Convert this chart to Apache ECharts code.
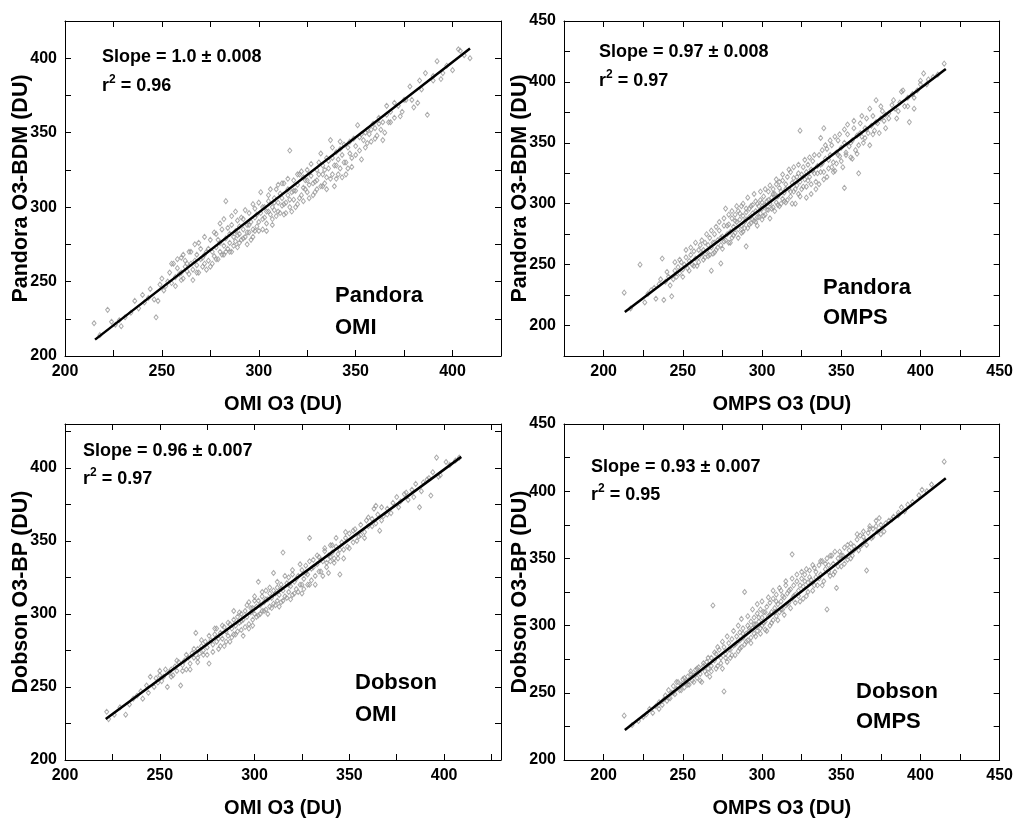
<!DOCTYPE html>
<html><head><meta charset="utf-8">
<script src="https://cdn.jsdelivr.net/npm/echarts@6/dist/echarts.min.js"></script>
<style>html,body{margin:0;padding:0;background:#fff}#c{width:1016px;height:820px}</style>
</head><body><div id="c"></div>
<script>
const xNames = ['OMI O3 (DU)', 'OMPS O3 (DU)', 'OMI O3 (DU)', 'OMPS O3 (DU)'];
const yNames = ['Pandora O3-BDM (DU)', 'Pandora O3-BDM (DU)', 'Dobson O3-BP (DU)', 'Dobson O3-BP (DU)'];
const slopeTexts = ['Slope = 1.0 \u00b1 0.008', 'Slope = 0.97 \u00b1 0.008', 'Slope = 0.96 \u00b1 0.007', 'Slope = 0.93 \u00b1 0.007'];
const r2Values = ['0.96', '0.97', '0.97', '0.95'];
const boxTexts = [['Pandora', 'OMI'], ['Pandora', 'OMPS'], ['Dobson', 'OMI'], ['Dobson', 'OMPS']];
const xRanges = [[200, 425], [175, 450], [200, 430], [175, 450]];
const yRanges = [[200, 425], [175, 450], [200, 430], [200, 450]];
const tickStep = 25;
const labelStep = 50;

const p1Fit = [[215.5, 211], [409, 406.5]];
const p2Fit = [[213.4, 211.2], [416, 410.5]];
const p3Fit = [[221.5, 228], [409, 407.5]];
const p4Fit = [[213.4, 222.3], [416, 409.6]];

const p1Points = [[215,222],[218,214],[222,231],[224,223],[226,221],[228,224],[229,220],[231,226],[234,229],[236,237],[238,232],[240,241],[241,236],[243,239],[244,245],[246,238],[247,226],[248,237],[249,248],[250,252],[251,244],[252,247],[253,250],[254,256],[255,249],[256,262],[257,253],[258,259],[259,255],[260,266],[260,256],[261,252],[262,260],[262,264],[263,257],[264,255],[265,262],[265,270],[266,258],[267,264],[268,261],[268,268],[269,256],[270,265],[270,272],[271,260],[272,268],[272,262],[273,270],[274,264],[275,278],[275,260],[276,270],[277,267],[278,273],[278,282],[279,265],[280,276],[280,270],[281,285],[282,274],[282,268],[283,304],[283,279],[284,272],[285,282],[285,276],[286,288],[286,270],[287,280],[288,284],[288,277],[289,291],[289,273],[290,282],[290,287],[291,278],[292,285],[292,292],[293,280],[294,288],[294,275],[295,296],[295,283],[296,290],[297,285],[297,280],[298,293],[298,299],[299,287],[300,303],[300,290],[301,296],[302,285],[302,300],[303,293],[304,297],[304,289],[305,304],[305,308],[306,295],[307,300],[307,292],[308,306],[308,298],[309,312],[310,303],[310,297],[311,309],[312,301],[312,306],[313,316],[313,295],[314,303],[315,308],[315,312],[316,338],[316,300],[317,310],[318,305],[318,318],[319,311],[320,302],[320,315],[321,322],[322,308],[323,313],[323,320],[324,318],[325,310],[325,325],[326,315],[327,321],[328,308],[329,317],[330,325],[330,318],[331,330],[332,314],[333,322],[333,328],[334,316],[335,333],[335,320],[336,326],[337,345],[338,322],[338,333],[339,328],[340,319],[340,337],[341,332],[342,344],[342,326],[343,335],[344,330],[345,322],[346,340],[347,336],[348,333],[349,346],[350,341],[351,355],[352,338],[353,349],[354,345],[355,340],[356,352],[357,349],[358,344],[359,356],[360,353],[361,348],[362,360],[363,352],[364,357],[365,350],[366,362],[367,357],[368,364],[370,360],[372,368],[374,364],[376,372],[378,381],[380,367],[382,370],[384,379],[386,390],[387,362],[390,385],[392,398],[394,386],[397,395],[400,392],[403,406],[406,402],[409,400]];
const p1PointsB = [[255,262],[257,247],[258,265],[260,251],[261,268],[263,262],[264,270],[266,251],[267,275],[268,256],[269,276],[271,266],[272,280],[273,258],[274,272],[276,262],[277,283],[278,265],[279,278],[280,289],[281,268],[282,292],[283,270],[284,286],[285,270],[286,294],[287,274],[288,297],[289,281],[290,276],[291,293],[292,279],[293,298],[294,283],[295,288],[296,278],[297,302],[298,284],[299,295],[300,284],[301,310],[302,292],[303,300],[304,284],[305,297],[306,312],[307,288],[308,303],[309,294],[310,315],[311,296],[312,316],[313,302],[314,296],[315,319],[316,305],[317,297],[318,311],[319,300],[320,322],[321,306],[322,324],[323,304],[324,312],[325,318],[326,306],[327,329],[328,316],[329,310],[330,312],[331,322],[332,336],[333,314],[334,325],[335,312],[336,331],[337,319],[338,340],[339,314],[340,328],[341,322],[342,339],[343,320],[344,342],[345,330],[346,326],[347,344],[348,327],[350,335],[352,347],[353,332],[355,350],[356,343],[358,352],[360,346],[362,356],[364,345],[366,368],[368,357],[370,370],[373,361],[375,372],[379,372],[383,385],[390,388],[395,390],[404,405]];

const p2Points = [[213,227],[217,214],[223,250],[226,219],[228,226],[230,229],[232,231],[233,222],[235,234],[236,238],[237,255],[238,221],[239,236],[240,244],[241,240],[242,233],[243,224],[244,238],[245,245],[246,240],[247,248],[248,243],[249,252],[250,246],[251,250],[252,256],[253,247],[254,253],[255,258],[256,250],[257,261],[258,255],[259,249],[260,262],[260,256],[261,266],[262,259],[263,254],[264,268],[265,261],[266,257],[266,266],[267,272],[268,245],[268,264],[269,259],[270,275],[270,268],[271,262],[272,270],[273,278],[274,266],[274,251],[275,273],[276,282],[276,269],[277,296],[278,275],[279,283],[279,268],[280,277],[281,288],[281,272],[282,281],[283,291],[283,276],[284,285],[285,279],[285,294],[286,287],[287,282],[287,298],[288,290],[288,277],[289,285],[290,293],[290,287],[290,265],[291,280],[292,296],[292,289],[293,284],[294,299],[294,292],[295,286],[296,302],[296,294],[297,289],[297,282],[298,298],[299,303],[299,292],[300,296],[300,287],[301,306],[302,299],[302,291],[303,302],[304,295],[304,310],[305,300],[305,288],[306,305],[307,312],[307,297],[308,308],[309,301],[309,316],[310,306],[311,298],[311,313],[312,310],[313,304],[313,319],[314,309],[315,316],[315,301],[316,322],[317,312],[318,306],[318,326],[319,317],[320,310],[320,321],[321,300],[322,315],[323,325],[323,308],[324,360],[324,318],[325,312],[326,330],[327,320],[328,314],[328,326],[329,332],[330,322],[331,308],[331,328],[332,335],[333,325],[334,318],[335,331],[336,340],[337,326],[337,354],[338,333],[339,362],[339,320],[340,337],[341,345],[342,329],[343,340],[344,348],[345,334],[346,327],[347,342],[348,352],[349,339],[350,346],[351,330],[352,313],[352,350],[353,342],[354,357],[355,347],[356,338],[357,352],[358,362],[359,344],[360,356],[361,325],[361,348],[362,366],[363,355],[364,350],[365,362],[366,370],[367,358],[368,348],[369,364],[370,372],[371,360],[372,385],[373,366],[374,358],[375,370],[376,376],[377,368],[378,362],[380,374],[382,381],[384,378],[385,370],[387,383],[389,393],[390,380],[392,387],[393,367],[395,390],[396,378],[398,393],[400,398],[402,407],[405,402],[408,404],[411,406],[415,415]];
const p2PointsB = [[245,252],[248,254],[250,240],[252,262],[254,245],[255,264],[257,249],[258,268],[260,252],[262,270],[263,262],[264,256],[265,275],[267,258],[268,278],[269,268],[270,260],[271,281],[272,264],[273,285],[274,272],[275,263],[276,288],[277,270],[278,282],[279,291],[280,268],[281,294],[282,274],[283,286],[284,298],[285,272],[286,292],[287,276],[288,300],[289,280],[290,296],[291,305],[292,283],[293,298],[294,287],[295,308],[296,285],[297,300],[298,289],[299,310],[300,301],[301,290],[302,312],[303,295],[304,303],[305,315],[306,296],[307,308],[308,294],[309,320],[310,299],[311,318],[312,300],[313,324],[314,302],[315,312],[316,303],[317,328],[318,310],[319,300],[320,330],[321,312],[322,322],[323,332],[324,306],[325,324],[326,314],[327,336],[328,305],[329,319],[330,338],[331,316],[332,327],[333,340],[334,312],[335,325],[336,316],[337,332],[338,344],[339,326],[340,348],[341,322],[342,336],[343,352],[344,330],[345,326],[346,355],[347,333],[348,340],[349,357],[350,335],[352,361],[353,340],[354,365],[356,350],[357,337],[358,368],[360,341],[362,358],[363,372],[365,354],[366,361],[368,378],[370,357],[372,367],[375,380],[378,373],[380,370],[383,385],[386,376],[388,392],[392,380],[396,387],[400,401],[404,398]];

const p3Points = [[222,233],[223,228],[226,231],[229,236],[232,231],[234,238],[236,242],[238,244],[240,247],[241,242],[243,251],[244,246],[245,257],[247,250],[248,256],[249,253],[250,258],[251,254],[252,257],[254,250],[255,260],[256,262],[257,258],[258,264],[259,261],[260,267],[261,251],[262,265],[263,268],[264,262],[265,270],[266,266],[267,273],[268,270],[269,287],[270,276],[270,270],[271,273],[272,278],[273,272],[274,281],[275,277],[276,266],[277,282],[278,279],[279,286],[280,281],[280,290],[281,276],[282,287],[283,283],[284,291],[284,278],[285,288],[286,285],[287,293],[287,281],[288,290],[289,296],[289,286],[290,292],[291,288],[291,298],[292,294],[293,289],[293,300],[294,296],[295,291],[295,302],[296,298],[297,293],[297,308],[298,301],[299,296],[299,304],[300,300],[300,309],[301,305],[302,299],[302,322],[303,306],[304,302],[304,312],[305,308],[306,303],[306,316],[307,310],[308,305],[308,314],[309,311],[310,307],[310,328],[311,314],[312,309],[312,318],[313,313],[314,308],[314,320],[315,342],[315,316],[316,312],[317,321],[318,315],[318,325],[319,319],[320,313],[320,327],[321,322],[322,317],[323,326],[324,320],[325,330],[325,314],[326,324],[327,333],[328,327],[329,352],[329,320],[330,331],[331,337],[332,326],[333,334],[334,339],[335,329],[336,336],[337,343],[338,332],[339,340],[340,347],[340,336],[341,342],[342,338],[343,346],[344,341],[345,327],[346,349],[347,344],[348,352],[349,346],[350,355],[352,349],[353,358],[355,353],[356,361],[358,356],[359,364],[360,360],[362,365],[363,372],[364,362],[365,368],[366,357],[367,373],[368,367],[370,372],[372,369],[375,380],[377,377],[379,382],[381,378],[383,385],[385,389],[387,373],[389,390],[391,392],[393,381],[394,397],[396,407],[398,395],[401,404],[403,402],[406,405],[408,407]];
const p3PointsB = [[250,261],[253,262],[256,257],[259,268],[262,261],[264,272],[266,262],[268,276],[270,267],[272,282],[273,275],[275,272],[276,285],[278,274],[279,290],[281,283],[282,278],[283,292],[285,281],[286,294],[288,284],[289,302],[290,286],[292,301],[293,295],[294,285],[296,306],[297,290],[298,304],[299,292],[300,312],[301,298],[302,309],[303,300],[304,315],[305,302],[306,310],[307,300],[308,318],[309,304],[310,316],[311,306],[312,322],[313,305],[314,317],[315,309],[316,326],[317,311],[318,320],[319,310],[320,330],[321,314],[322,324],[323,315],[324,334],[325,320],[326,317],[327,328],[328,320],[329,336],[330,323],[331,332],[332,320],[333,340],[334,329],[335,337],[336,326],[337,345],[338,335],[339,328],[340,339],[341,347],[342,335],[343,352],[344,338],[345,344],[347,338],[348,356],[350,345],[352,357],[354,350],[356,354],[358,352],[360,366],[362,360],[364,374],[367,364],[370,368],[373,376],[376,373],[380,383],[384,380],[388,384],[392,393],[397,394]];

const p4Points = [[213,233],[218,226],[222,229],[225,232],[227,234],[229,238],[231,235],[233,240],[235,243],[237,241],[239,248],[240,244],[241,252],[242,246],[243,250],[244,255],[245,249],[246,253],[247,258],[248,252],[249,256],[250,260],[251,254],[252,258],[253,262],[254,256],[255,264],[256,259],[257,263],[258,267],[259,261],[260,269],[261,264],[262,258],[263,270],[264,266],[265,273],[266,268],[267,262],[268,276],[268,270],[269,315],[270,274],[271,279],[272,270],[273,282],[274,276],[275,268],[276,251],[276,284],[277,279],[278,273],[279,287],[280,282],[280,276],[281,290],[282,285],[283,278],[284,292],[284,287],[285,281],[286,295],[286,289],[287,284],[288,298],[288,291],[289,325],[289,286],[290,294],[291,300],[291,289],[292,296],[293,303],[293,291],[294,298],[295,306],[295,294],[296,301],[297,296],[297,309],[298,303],[299,298],[299,312],[300,306],[300,300],[301,310],[302,303],[302,297],[303,314],[304,307],[305,300],[305,317],[306,310],[307,304],[307,320],[308,313],[309,307],[309,323],[310,316],[311,310],[312,326],[312,318],[313,312],[314,321],[315,315],[315,330],[316,324],[317,317],[318,327],[319,353],[319,320],[320,330],[321,323],[322,333],[323,326],[324,318],[325,335],[326,329],[327,338],[328,322],[329,332],[330,341],[331,334],[332,326],[333,343],[334,336],[335,330],[336,345],[337,338],[338,348],[339,333],[340,342],[341,312],[341,350],[342,345],[343,337],[344,352],[345,346],[346,340],[347,328],[348,350],[349,355],[350,344],[351,352],[352,358],[354,349],[355,356],[356,361],[357,352],[358,359],[360,364],[361,356],[362,367],[363,360],[364,370],[365,363],[366,341],[367,369],[368,374],[369,365],[370,372],[372,378],[373,370],[374,380],[375,375],[377,370],[380,378],[383,381],[386,384],[388,388],[390,385],[392,390],[401,401],[404,400],[407,405],[415,422]];
const p4PointsB = [[235,238],[238,245],[241,246],[244,250],[246,258],[249,252],[251,261],[253,256],[255,266],[257,258],[259,268],[261,259],[263,272],[265,264],[266,276],[268,266],[270,280],[271,268],[272,284],[274,272],[275,288],[277,276],[278,292],[279,282],[281,278],[282,296],[283,286],[285,300],[286,283],[287,305],[288,294],[290,288],[291,307],[292,298],[293,287],[294,312],[295,301],[296,292],[297,316],[298,306],[299,294],[300,318],[301,302],[302,310],[303,296],[304,321],[305,308],[306,302],[307,326],[308,310],[309,318],[310,304],[311,328],[312,312],[313,322],[314,308],[315,333],[316,316],[317,326],[318,313],[319,335],[320,322],[321,317],[322,338],[323,322],[324,330],[325,340],[326,320],[327,333],[328,342],[329,325],[330,336],[332,345],[333,330],[334,340],[336,335],[337,348],[338,330],[340,346],[342,340],[343,352],[345,338],[346,355],[348,344],[350,352],[352,346],[354,360],[356,350],[358,356],[360,368],[362,359],[364,366],[366,360],[368,372],[370,366],[372,374],[375,368],[378,376],[382,379],[386,382],[395,392],[399,397]];

const allPoints = [p1Points.concat(p1PointsB), p2Points.concat(p2PointsB), p3Points.concat(p3PointsB), p4Points.concat(p4PointsB)];
const allFits = [p1Fit, p2Fit, p3Fit, p4Fit];

// layout (pixels)
const gridBoxes = [[65, 21, 436, 335], [564, 21, 436, 335], [65, 424, 436, 336], [564, 424, 436, 336]];
const textPos = [
  {s: [102, 57], r: [102, 86], b: [335, 296], b2: [335, 328]},
  {s: [599, 52], r: [599, 81], b: [823, 288], b2: [823, 318]},
  {s: [83, 451], r: [83, 479], b: [355, 683], b2: [355, 715]},
  {s: [591, 467], r: [591, 495], b: [856, 692], b2: [856, 722]}
];

const FONT = '"Liberation Sans", Arial, Helvetica, sans-serif';
const chart = echarts.init(document.getElementById('c'), null, {renderer: 'canvas'});

const grids = [], xAxes = [], yAxes = [], series = [], graphics = [];
const fmt = v => (v % labelStep === 0 ? String(v) : '');
const tickCommon = {show: true, inside: true, length: 6, lineStyle: {color: '#000', width: 1}};
const lineCommon = {show: true, onZero: false, lineStyle: {color: '#000', width: 1}};
const labelCommon = {color: '#000', fontSize: 16, fontWeight: 'bold', fontFamily: FONT, formatter: fmt, showMinLabel: true, showMaxLabel: true};

for (let i = 0; i < 4; i++) {
  const g = gridBoxes[i];
  grids.push({left: g[0], top: g[1], width: g[2], height: g[3], containLabel: false, show: false});
  xAxes.push({
    type: 'value', gridIndex: i, position: 'bottom', min: xRanges[i][0], max: xRanges[i][1], interval: tickStep,
    axisLine: lineCommon, axisTick: tickCommon, splitLine: {show: false},
    axisLabel: Object.assign({margin: 8}, labelCommon),
    name: xNames[i], nameLocation: 'middle', nameGap: 38, nameMoveOverlap: false,
    nameTextStyle: {color: '#000', fontSize: 20, fontWeight: 'bold', fontFamily: FONT}
  });
  xAxes.push({
    type: 'value', gridIndex: i, position: 'top', min: xRanges[i][0], max: xRanges[i][1], interval: tickStep,
    axisLine: lineCommon, axisTick: tickCommon, splitLine: {show: false}, axisLabel: {show: false}
  });
  yAxes.push({
    type: 'value', gridIndex: i, position: 'left', min: yRanges[i][0], max: yRanges[i][1], interval: tickStep,
    axisLine: lineCommon, axisTick: tickCommon, splitLine: {show: false},
    axisLabel: Object.assign({margin: 8}, labelCommon),
    name: yNames[i], nameLocation: 'middle', nameGap: 33, nameRotate: 90, nameMoveOverlap: false,
    nameTextStyle: {color: '#000', fontSize: 21.5, fontWeight: 'bold', fontFamily: FONT}
  });
  yAxes.push({
    type: 'value', gridIndex: i, position: 'right', min: yRanges[i][0], max: yRanges[i][1], interval: tickStep,
    axisLine: lineCommon, axisTick: tickCommon, splitLine: {show: false}, axisLabel: {show: false}
  });
  series.push({
    type: 'scatter', xAxisIndex: 2 * i, yAxisIndex: 2 * i, data: allPoints[i],
    symbol: 'diamond', symbolSize: [4, 5],
    itemStyle: {color: 'rgba(0,0,0,0)', borderColor: '#959595', borderWidth: 1},
    silent: true, z: 2
  });
  series.push({
    type: 'line', xAxisIndex: 2 * i, yAxisIndex: 2 * i, data: allFits[i],
    symbol: 'none', lineStyle: {color: '#000', width: 2.5}, silent: true, z: 3
  });
  const t = textPos[i];
  graphics.push({type: 'text', x: t.s[0], y: t.s[1], silent: true,
    style: {text: slopeTexts[i], fill: '#000', font: 'bold 18px ' + FONT, verticalAlign: 'middle', align: 'left'}});
  graphics.push({type: 'text', x: t.r[0], y: t.r[1], silent: true,
    style: {text: '{a|r}{b|2}{a| = ' + r2Values[i] + '}', verticalAlign: 'middle', align: 'left',
      rich: {
        a: {fill: '#000', fontSize: 18, fontWeight: 'bold', fontFamily: FONT, lineHeight: 24},
        b: {fill: '#000', fontSize: 12, fontWeight: 'bold', fontFamily: FONT, verticalAlign: 'top', lineHeight: 14}
      }}});
  graphics.push({type: 'text', x: t.b[0], y: t.b[1], silent: true,
    style: {text: boxTexts[i][0], fill: '#000', font: 'bold 22px ' + FONT, verticalAlign: 'middle', align: 'left'}});
  graphics.push({type: 'text', x: t.b2[0], y: t.b2[1], silent: true,
    style: {text: boxTexts[i][1], fill: '#000', font: 'bold 22px ' + FONT, verticalAlign: 'middle', align: 'left'}});
}

chart.setOption({
  backgroundColor: '#fff',
  animation: false,
  grid: grids,
  xAxis: xAxes,
  yAxis: yAxes,
  series: series,
  graphic: graphics
});
</script>
</body></html>
